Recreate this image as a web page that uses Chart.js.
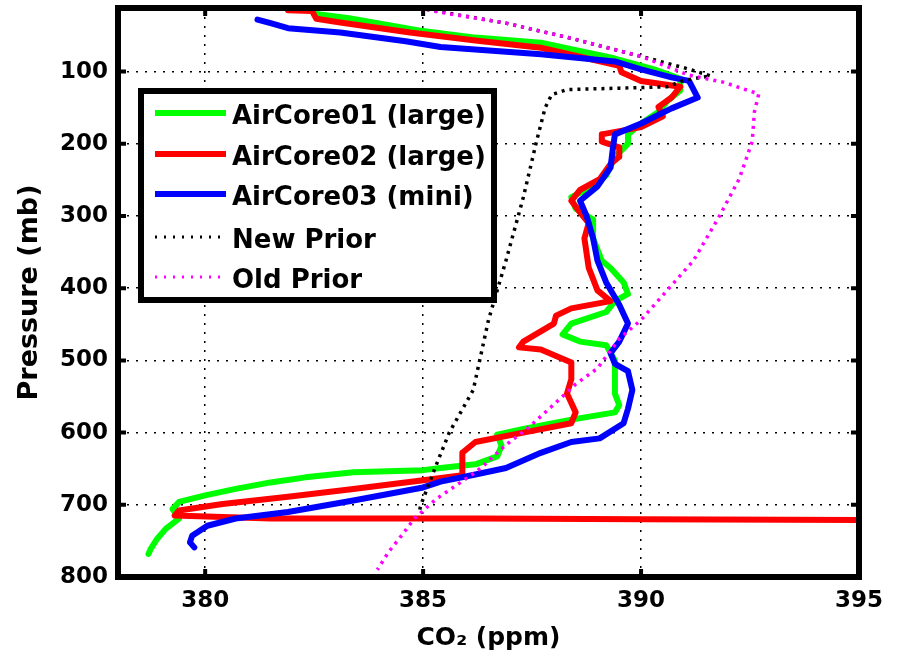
<!DOCTYPE html>
<html>
<head>
<meta charset="utf-8">
<script src="https://cdn.jsdelivr.net/npm/chart.js@4"></script>
<style>
  html, body { margin: 0; padding: 0; background: #fff; }
</style>
</head>
<body>
<canvas id="co2Chart" width="904" height="663"></canvas>
<script>
// CO2 profiles (ppm vs pressure in mb)
const ac01Co2 = [382.5, 383.3, 384.9, 386.2, 387.7, 389.4, 390.3, 390.9, 390.9, 390.6, 390.4, 390.0, 389.7, 389.7, 389.4, 389.2, 388.9, 388.4, 388.5, 388.9, 388.9, 389.1, 389.3, 389.6, 389.7, 389.4, 389.2, 388.4, 388.2, 388.6, 389.2, 389.4, 389.4, 389.4, 389.5, 389.4, 388.4, 387.3, 386.7, 386.8, 386.7, 386.2, 385.4, 385.0, 383.4, 382.3, 381.5, 380.7, 380.0, 379.4, 379.25, 379.4, 379.1, 378.9, 378.75, 378.7]
const ac01Pressure = [20, 26, 43, 53, 60, 82, 97, 110, 126, 141, 156, 172, 187, 200, 218, 244, 259, 274, 290, 305, 331, 362, 372, 392, 408, 418, 433, 449, 464, 474, 479, 500, 526, 546, 562, 572, 582, 595, 603, 618, 633, 644, 649, 652, 655, 662, 669, 678, 687, 696, 706, 719, 733, 747, 761, 768]

const ac02Co2 = [381.9, 382.45, 382.55, 383.1, 384.7, 386.2, 387.7, 389.5, 389.55, 390.0, 390.9, 390.7, 390.4, 390.5, 390.0, 389.1, 389.1, 389.5, 389.5, 389.3, 389.05, 388.6, 388.4, 388.6, 388.8, 388.7, 388.8, 389.0, 389.3, 388.4, 388.05, 388.0, 387.3, 387.2, 387.7, 388.4, 388.4, 388.3, 388.5, 388.4, 387.3, 386.2, 385.9, 385.9, 385.9, 385.0, 383.4, 381.9, 380.4, 379.4, 379.3, 380.4, 381.5, 383.4, 386.3, 390.0, 395.0]
const ac02Pressure = [15, 16, 27, 32, 46, 57, 67, 92, 101, 113, 121, 136, 149, 162, 177, 187, 197, 205, 218, 228, 249, 264, 279, 295, 310, 331, 372, 403, 418, 428, 438, 449, 474, 482, 485, 503, 526, 546, 572, 587, 600, 613, 628, 649, 659, 666, 678, 689, 699, 708, 715, 717, 719, 719, 719, 720, 721]

const ac03Co2 = [381.2, 381.5, 381.9, 383.1, 384.6, 385.4, 387.7, 389.4, 390.0, 390.7, 391.1, 391.3, 390.7, 390.0, 389.4, 389.35, 389.3, 389.0, 388.6, 388.75, 388.9, 389.0, 389.2, 389.5, 389.7, 389.5, 389.3, 389.4, 389.7, 389.8, 389.7, 389.6, 389.05, 388.4, 387.7, 386.9, 386.2, 385.4, 385.0, 383.4, 381.9, 380.7, 380.05, 379.7, 379.65, 379.75]
const ac03Pressure = [28, 33, 40, 46, 58, 66, 76, 86, 97, 108, 113, 136, 151, 172, 187, 208, 233, 259, 279, 300, 331, 362, 392, 423, 449, 474, 490, 505, 515, 541, 567, 587, 608, 613, 628, 649, 658, 668, 676, 694, 710, 719, 729, 743, 752, 759]

const newPriorCo2 = [384.9, 386.9, 388.4, 390.0, 391.0, 391.6, 391.0, 390.6, 389.5, 388.3, 387.95, 387.8, 387.6, 387.3, 386.9, 386.5, 386.15, 385.6, 385.3, 384.95, 384.9]
const newPriorPressure = [12, 33, 54, 79, 95, 106, 112, 121, 123, 125, 132, 150, 197, 274, 362, 444, 541, 600, 645, 700, 712]

const oldPriorCo2 = [384.9, 385.4, 386.9, 388.4, 390.0, 391.1, 391.9, 392.7, 392.6, 392.55, 392.25, 391.8, 391.2, 390.6, 390.0, 389.5, 389.0, 388.5, 388.0, 387.4, 386.9, 386.4, 386.2, 385.3, 384.8, 384.5, 384.2, 383.95]
const oldPriorPressure = [12, 18, 33, 54, 79, 105, 115, 131, 156, 197, 249, 300, 362, 403, 444, 470, 511, 533, 561, 594, 617, 645, 655, 692, 719, 743, 766, 790]

const seriesLabels = ['AirCore01 (large)', 'AirCore02 (large)', 'AirCore03 (mini)', 'New Prior', 'Old Prior']
const xTicks = [380, 385, 390, 395]
const yTicks = [100, 200, 300, 400, 500, 600, 700, 800]

const toPoints = (co2, pres) => co2.map((v, i) => ({ x: v, y: pres[i] }))

const solid = (label, color, co2, pres, order) => ({
  label: label,
  data: toPoints(co2, pres),
  borderColor: color,
  backgroundColor: color,
  borderWidth: 6,
  borderJoinStyle: 'round',
  borderCapStyle: 'round',
  pointRadius: 0,
  tension: 0,
  order: order
})

const dotted = (label, color, co2, pres, order) => ({
  label: label,
  data: toPoints(co2, pres),
  borderColor: color,
  backgroundColor: color,
  borderWidth: 3.5,
  borderDash: [3, 5],
  pointRadius: 0,
  tension: 0,
  order: order
})

const boldFont = size => ({ family: 'DejaVu Sans', weight: 'bold', size: size })

// thick box round the axes plus the little inward ticks
const framePlugin = {
  id: 'frame',
  afterDatasetsDraw (chart) {
    const { ctx, chartArea: a, scales } = chart
    ctx.save()
    ctx.strokeStyle = '#000'
    ctx.lineWidth = 6
    ctx.strokeRect(a.left, a.top, a.right - a.left, a.bottom - a.top)
    ctx.lineWidth = 4
    ctx.beginPath()
    xTicks.forEach(v => {
      const px = scales.x.getPixelForValue(v)
      ctx.moveTo(px, a.bottom); ctx.lineTo(px, a.bottom - 8)
      ctx.moveTo(px, a.top); ctx.lineTo(px, a.top + 8)
    })
    yTicks.forEach(v => {
      const py = scales.y.getPixelForValue(v)
      ctx.moveTo(a.left, py); ctx.lineTo(a.left + 8, py)
      ctx.moveTo(a.right, py); ctx.lineTo(a.right - 8, py)
    })
    ctx.stroke()
    ctx.restore()
  }
}

// boxed legend in the upper left, like the original
const boxLegend = {
  id: 'boxLegend',
  afterDraw (chart) {
    const { ctx } = chart
    const box = { x: 141, y: 91, w: 353, h: 209 }
    const rows = [113, 154, 194, 237, 277]
    ctx.save()
    ctx.fillStyle = '#fff'
    ctx.fillRect(box.x, box.y, box.w, box.h)
    ctx.strokeStyle = '#000'
    ctx.lineWidth = 6
    ctx.strokeRect(box.x, box.y, box.w, box.h)
    chart.data.datasets.forEach((ds, i) => {
      const y = rows[i]
      ctx.beginPath()
      ctx.strokeStyle = ds.borderColor
      ctx.lineWidth = ds.borderDash ? 3 : 6
      ctx.setLineDash(ds.borderDash ? [2, 7] : [])
      ctx.moveTo(155, y)
      ctx.lineTo(226, y)
      ctx.stroke()
      ctx.setLineDash([])
      ctx.fillStyle = '#000'
      ctx.font = 'bold 26px "DejaVu Sans"'
      ctx.textBaseline = 'alphabetic'
      ctx.fillText(ds.label, 232, y + 11)
    })
    ctx.restore()
  }
}

const ctx = document.getElementById('co2Chart').getContext('2d')
const chart = new Chart(ctx, {
  type: 'line',
  data: {
    datasets: [
      solid(seriesLabels[0], '#00ff00', ac01Co2, ac01Pressure, 5),
      solid(seriesLabels[1], '#ff0000', ac02Co2, ac02Pressure, 4),
      solid(seriesLabels[2], '#0000ff', ac03Co2, ac03Pressure, 3),
      dotted(seriesLabels[3], '#000000', newPriorCo2, newPriorPressure, 2),
      dotted(seriesLabels[4], '#ff00ff', oldPriorCo2, oldPriorPressure, 1)
    ]
  },
  options: {
    responsive: false,
    animation: false,
    layout: { padding: { top: 8, right: 45, left: 0, bottom: 0 } },
    plugins: {
      legend: { display: false },
      tooltip: { enabled: false }
    },
    scales: {
      x: {
        type: 'linear',
        min: 378,
        max: 395,
        afterBuildTicks: scale => { scale.ticks = xTicks.map(v => ({ value: v })) },
        afterFit: scale => { scale.height = 86; scale.paddingLeft = 0; scale.paddingRight = 0 },
        ticks: { color: '#000', font: boldFont(23), padding: 10, maxRotation: 0 },
        grid: { color: '#000', lineWidth: 1.5, drawTicks: false },
        border: { display: false, dash: [2, 7] },
        title: { display: true, text: 'CO₂ (ppm)', color: '#000', font: boldFont(25), padding: { top: 0, bottom: 10 } }
      },
      y: {
        type: 'linear',
        reverse: true,
        min: 12,
        max: 800,
        afterBuildTicks: scale => { scale.ticks = yTicks.map(v => ({ value: v })) },
        afterFit: scale => { scale.width = 118; scale.paddingTop = 0; scale.paddingBottom = 0 },
        ticks: { color: '#000', font: boldFont(23), padding: 10 },
        grid: { color: '#000', lineWidth: 1.5, drawTicks: false },
        border: { display: false, dash: [2, 7] },
        title: { display: true, text: 'Pressure (mb)', color: '#000', font: boldFont(27), padding: { top: 14, bottom: 0 } }
      }
    }
  },
  plugins: [framePlugin, boxLegend]
})
</script>
</body>
</html>
